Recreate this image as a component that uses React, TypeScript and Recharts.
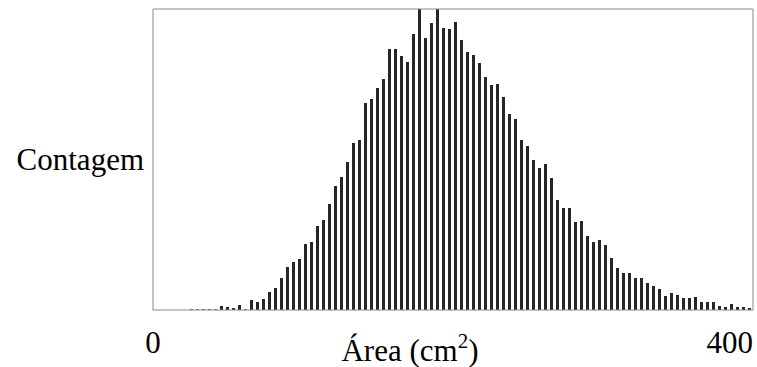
import { BarChart, Bar, XAxis, YAxis } from 'recharts';

// histogram bins: 100 bins of width 4 cm² from 0 to 400 (bin midpoints)
const binMids = Array.from({ length: 100 }, (_, i) => i * 4 + 2);

// counts (arbitrary units)
const counts = [
  0, 0, 0, 0, 0, 0, 0.7, 0.7, 0.7, 0.7,
  0.7, 4, 3, 2, 5, 0.7, 10, 8, 11, 18,
  22, 32, 43, 48, 51, 66, 68, 84, 90, 106,
  124, 133, 148, 167, 170, 207, 211, 222, 231, 261,
  261, 254, 248, 276, 301, 272, 287, 301, 282, 281,
  288, 270, 258, 255, 247, 233, 225, 226, 213, 196,
  191, 170, 164, 150, 142, 146, 132, 110, 102, 102,
  88, 89, 74, 68, 70, 65, 52, 42, 37, 37,
  32, 32, 27, 24, 21, 14, 17, 15, 12, 12,
  13, 8, 8, 8, 4, 3, 6, 3, 3, 2,
];

const xTicks = [0, 400];
const xLabel = 'Área (cm';
const yLabel = 'Contagem';

const data = binMids.map((mid, i) => ({ mid, count: counts[i] }));

const FONT = '"Liberation Serif", "Times New Roman", Times, serif';
const FRAME = '#8a8a8a';
const textStyle = { fontFamily: FONT, fontSize: 31 };

const AxisTick = (props: any) => {
  const { x, y, payload } = props;
  const isLast = payload.value === xTicks[xTicks.length - 1];
  return (
    <text x={x} y={y} dy={43} textAnchor={isLast ? 'end' : 'middle'} style={textStyle} fill="#000">
      {payload.value}
    </text>
  );
};

const XLabel = (props: any) => {
  const { viewBox } = props;
  const cx = viewBox.x + viewBox.width / 2 - 43;
  return (
    <text x={cx} y={viewBox.y + 51} textAnchor="middle" style={textStyle} fill="#000">
      {xLabel}
      <tspan dy={-13} style={{ fontSize: 21 }}>2</tspan>
      <tspan dy={13}>)</tspan>
    </text>
  );
};

const YLabel = (props: any) => {
  const { viewBox } = props;
  return (
    <text x={viewBox.x + viewBox.width - 9} y={viewBox.y + viewBox.height / 2 + 10} textAnchor="end" style={textStyle} fill="#000">
      {yLabel}
    </text>
  );
};

export default function App() {
  return (
    <div style={{ position: 'absolute', left: 0, top: 0, background: '#fff' }}>
      <BarChart width={757} height={367} data={data} margin={{ top: 8, right: 3, left: 152, bottom: 0 }}>
        <XAxis
          dataKey="mid"
          type="number"
          domain={[0, 400]}
          ticks={xTicks}
          interval={0}
          tick={<AxisTick />}
          tickLine={false}
          tickSize={0}
          tickMargin={0}
          height={57}
          axisLine={{ stroke: FRAME }}
          label={{ content: <XLabel /> }}
        />
        <XAxis
          xAxisId="top"
          orientation="top"
          dataKey="mid"
          type="number"
          domain={[0, 400]}
          height={1}
          tick={false}
          tickLine={false}
          axisLine={{ stroke: FRAME }}
        />
        <YAxis
          domain={[0, 301]}
          allowDataOverflow
          width={1}
          tick={false}
          tickLine={false}
          axisLine={{ stroke: FRAME }}
          label={{ content: <YLabel /> }}
        />
        <YAxis
          yAxisId="right"
          orientation="right"
          domain={[0, 301]}
          width={1}
          tick={false}
          tickLine={false}
          axisLine={{ stroke: FRAME }}
        />
        <Bar dataKey="count" fill="#262626" barSize={3} isAnimationActive={false} />
      </BarChart>
    </div>
  );
}
